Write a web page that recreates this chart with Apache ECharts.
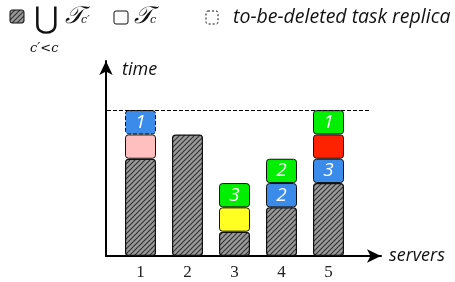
<!DOCTYPE html>
<html>
<head>
<meta charset="utf-8">
<script src="https://cdn.jsdelivr.net/npm/echarts@6/dist/echarts.min.js"></script>
<style>
  html, body { margin: 0; padding: 0; background: #fff; }
  #chart { width: 455px; height: 282px; }
</style>
</head>
<body>
<div id="chart"></div>
<script>
  // servers on the x axis
  const servers = ['1', '2', '3', '4', '5'];
  // load from earlier clusters (hatched)
  const baseLoad = [4, 5, 1, 2, 3];
  // task blocks stacked on top, one array per level
  const level1 = [1, 0, 1, 1, 1];
  const level1Color = ['#ffbfbf', '#ffffff', '#ffff22', '#3b8bea', '#3b8bea'];
  const level1Label = ['', '', '', '2', '3'];
  const level2 = [1, 0, 1, 1, 1];
  const level2Color = ['#3b8bea', '#ffffff', '#00ee00', '#00ee00', '#ff2200'];
  const level2Label = ['1', '', '3', '2', ''];
  const level2Dashed = [true, false, false, false, false];
  const level3 = [0, 0, 0, 0, 1];
  const level3Color = ['#00ee00', '#00ee00', '#00ee00', '#00ee00', '#00ee00'];
  const level3Label = ['', '', '', '', '1'];
  const deadline = 6;
  const timeMax = 8.02;

  // hatch pattern for the earlier clusters
  function makeHatch() {
    const c = document.createElement('canvas');
    c.width = 5; c.height = 5;
    const ctx = c.getContext('2d');
    ctx.fillStyle = '#9a9a9a';
    ctx.fillRect(0, 0, 5, 5);
    ctx.strokeStyle = '#333';
    ctx.lineWidth = 1.2;
    ctx.beginPath();
    ctx.moveTo(-1, 6); ctx.lineTo(6, -1);
    ctx.moveTo(-1, 1); ctx.lineTo(1, -1);
    ctx.moveTo(4, 6); ctx.lineTo(6, 4);
    ctx.stroke();
    return c;
  }
  const hatch = { image: makeHatch(), repeat: 'repeat' };

  const chart = echarts.init(document.getElementById('chart'));

  const labelStyle = {
    show: true,
    position: 'inside',
    color: '#fff',
    fontStyle: 'italic',
    fontFamily: 'Open Sans',
    fontSize: 19,
  };

  function levelSeries(values, colors, labels, dashed) {
    return {
      type: 'bar',
      stack: 'load',
      barWidth: 31,
      xAxisIndex: 1,
      yAxisIndex: 1,
      data: values.map((v, i) => ({
        value: v,
        itemStyle: {
          color: colors[i],
          borderColor: '#111',
          borderWidth: v ? 1 : 0,
          borderType: dashed && dashed[i] ? 'dashed' : 'solid',
          borderRadius: 3,
        },
        label: Object.assign({}, labelStyle, { formatter: labels[i] }),
      })),
      silent: true,
    };
  }

  const axisName = { fontFamily: 'Open Sans', fontStyle: 'italic', fontSize: 18, color: '#111', align: 'left', verticalAlign: 'middle' };

  const option = {
    animation: false,
    grid: [
      // frame with the two arrows
      { left: 106, right: 74, top: 61, bottom: 26 },
      // bars, one 47px band per server
      { left: 117, right: 103, top: 61, bottom: 26 },
    ],
    xAxis: [
      {
        type: 'value',
        gridIndex: 0,
        min: 0,
        max: 275,
        name: 'servers',
        nameLocation: 'end',
        nameGap: 8,
        nameTextStyle: axisName,
        axisLine: { show: true, lineStyle: { color: '#000', width: 2 }, symbol: ['none', 'arrow'], symbolSize: [10, 14] },
        axisTick: { show: false },
        axisLabel: { show: false },
        splitLine: { show: false },
      },
      {
        type: 'category',
        gridIndex: 1,
        data: servers,
        axisLine: { show: false },
        axisTick: { show: false },
        axisLabel: { margin: 8, fontFamily: 'Liberation Serif', fontSize: 17, color: '#222' },
      },
    ],
    yAxis: [
      {
        type: 'value',
        gridIndex: 0,
        min: 0,
        max: timeMax,
        name: 'time',
        nameLocation: 'end',
        nameGap: -9,
        nameTextStyle: Object.assign({}, axisName, { padding: [0, 0, 0, 16] }),
        axisLine: { show: true, lineStyle: { color: '#000', width: 2 }, symbol: ['none', 'arrow'], symbolSize: [10, 14] },
        axisTick: { show: false },
        axisLabel: { show: false },
        splitLine: { show: false },
      },
      {
        type: 'value',
        gridIndex: 1,
        min: 0,
        max: timeMax,
        show: false,
      },
    ],
    series: [
      {
        // only carries the deadline line in the frame grid
        type: 'line',
        xAxisIndex: 0,
        yAxisIndex: 0,
        data: [],
        markLine: {
          silent: true,
          symbol: 'none',
          label: { show: false },
          lineStyle: { color: '#000', type: 'dashed', width: 1 },
          data: [[{ coord: [1, deadline] }, { coord: [264, deadline] }]],
        },
      },
      {
        type: 'bar',
        stack: 'load',
        barWidth: 31,
        xAxisIndex: 1,
        yAxisIndex: 1,
        data: baseLoad,
        itemStyle: { color: hatch, borderColor: '#111', borderWidth: 1.2, borderRadius: 3 },
        silent: true,
      },
      levelSeries(level1, level1Color, level1Label),
      levelSeries(level2, level2Color, level2Label, level2Dashed),
      levelSeries(level3, level3Color, level3Label),
    ],
    graphic: [
      { type: 'rect', shape: { x: 10, y: 10, width: 14, height: 13, r: 2 }, style: { fill: hatch, stroke: '#111', lineWidth: 1 } },
      { type: 'text', x: 34, y: 5, style: { text: '⋃', font: '30px "DejaVu Sans"', fill: '#111' } },
      { type: 'text', x: 65, y: 5, style: { text: '𝒯', font: 'italic 24px "DejaVu Serif"', fill: '#111' } },
      { type: 'text', x: 81, y: 15, style: { text: 'c′', font: 'italic 11px "DejaVu Serif"', fill: '#111' } },
      { type: 'text', x: 30, y: 42, style: { text: 'c′<c', font: 'italic 13px "DejaVu Serif"', fill: '#111' } },
      { type: 'rect', shape: { x: 114, y: 11, width: 14, height: 13, r: 2 }, style: { fill: '#fff', stroke: '#111', lineWidth: 1 } },
      { type: 'text', x: 134, y: 5, style: { text: '𝒯', font: 'italic 24px "DejaVu Serif"', fill: '#111' } },
      { type: 'text', x: 150, y: 15, style: { text: 'c', font: 'italic 11px "DejaVu Serif"', fill: '#111' } },
      { type: 'rect', shape: { x: 206, y: 11, width: 12, height: 13, r: 2 }, style: { fill: '#fff', stroke: '#111', lineWidth: 1, lineDash: [2, 2] } },
      { type: 'text', x: 233, y: 7, style: { text: 'to-be-deleted task replica', font: 'italic 19.5px "Open Sans"', fill: '#111' } },
    ],
  };

  chart.setOption(option);
</script>
</body>
</html>
